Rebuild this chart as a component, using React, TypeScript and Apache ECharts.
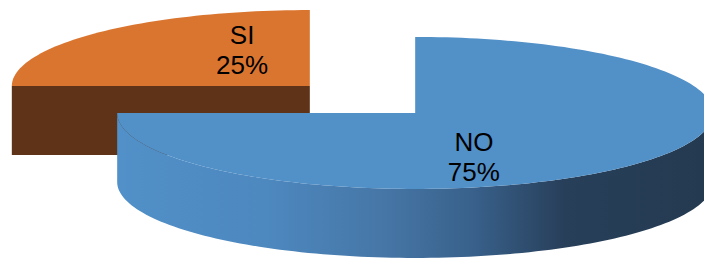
import React, { useEffect, useRef } from 'react';
import * as echarts from 'echarts';

// Data (Excel-style pie: clockwise from 12 o'clock)
const categories = ['NO', 'SI'];
const values = [75, 25];

// Styles
const topColors = ['#5290C8', '#DA7530'];
const faceColors = ['#3E6E9C', '#5E3317'];
const wallColors: [number, string][][] = [
  [
    [0, '#5190C8'],
    [0.25, '#4D88BF'],
    [0.45, '#4676A6'],
    [0.6, '#38608A'],
    [0.75, '#283F5A'],
    [1, '#233A50'],
  ],
  [
    [0, '#8A4A1E'],
    [1, '#5E3317'],
  ],
];

const total = values.reduce((a, b) => a + b, 0);
const deg = Math.PI / 180;

export default function App() {
  const ref = useRef<HTMLDivElement>(null);

  useEffect(() => {
    if (!ref.current) return;
    const chart = echarts.init(ref.current, undefined, { renderer: 'svg' });

    const CX = 362.5;
    const CY = 99.5;
    const RX = 298;
    const RY = 76;
    const DEPTH = 69;
    const EXPLODE = 0.25;

    const renderItem = (params: any, api: any) => {
      const i = params.dataIndex;
      let cum = 0;
      for (let k = 0; k < i; k++) cum += values[k];
      const a0 = 90 - (cum / total) * 360;
      const a1 = 90 - ((cum + values[i]) / total) * 360;
      const mid = (a0 + a1) / 2;
      const cx = CX + Math.cos(mid * deg) * RX * EXPLODE;
      const cy = CY - Math.sin(mid * deg) * RY * EXPLODE;
      const pt = (a: number, dy = 0): number[] => [
        cx + RX * Math.cos(a * deg),
        cy - RY * Math.sin(a * deg) + dy,
      ];
      const arc = (from: number, to: number, dy = 0): number[][] => {
        const n = Math.max(2, Math.ceil(Math.abs(from - to) / 1.5));
        const pts: number[][] = [];
        for (let s = 0; s <= n; s++) pts.push(pt(from + ((to - from) * s) / n, dy));
        return pts;
      };
      const base = Math.round(cy) * 10;
      const children: any[] = [];

      // Curved outer wall (front half only)
      for (let k = -2; k <= 1; k++) {
        const fLo = -180 + 360 * k;
        const fHi = 0 + 360 * k;
        const lo = Math.max(a1, fLo);
        const hi = Math.min(a0, fHi);
        if (hi - lo > 0.01) {
          const topArc = arc(hi, lo);
          const botArc = arc(lo, hi, DEPTH);
          children.push({
            type: 'polygon',
            z2: base + 1,
            shape: { points: topArc.concat(botArc) },
            style: {
              fill: new echarts.graphic.LinearGradient(
                0, 0, 1, 0,
                wallColors[i].map(([o, c]) => ({ offset: o, color: c }))
              ),
            },
          });
        }
      }

      // Radial cut faces
      const faceAt = (a: number) => {
        const p = pt(a);
        const p2 = pt(a, DEPTH);
        return [[cx, cy], p, p2, [cx, cy + DEPTH]];
      };
      if (Math.cos(a0 * deg) < -0.01) {
        children.push({
          type: 'polygon',
          z2: base + 2,
          shape: { points: faceAt(a0) },
          style: { fill: faceColors[i] },
        });
      }
      if (Math.cos(a1 * deg) > 0.01) {
        children.push({
          type: 'polygon',
          z2: base + 2,
          shape: { points: faceAt(a1) },
          style: { fill: faceColors[i] },
        });
      }

      // Top face
      children.push({
        type: 'polygon',
        z2: base + 5,
        shape: { points: [[cx, cy]].concat(arc(a0, a1)) },
        style: { fill: topColors[i] },
      });

      // Label
      const pct = Math.round((values[i] / total) * 100);
      children.push({
        type: 'text',
        z2: 100000,
        style: {
          text: categories[i] + '\n' + pct + '%',
          x: cx + Math.cos(mid * deg) * RX * 0.3 - 4.5,
          y: cy - Math.sin(mid * deg) * RY * 0.75 + 4,
          align: 'center',
          verticalAlign: 'middle',
          fontSize: 26,
          lineHeight: 30,
          fontFamily: '"Liberation Sans", Arial, sans-serif',
          fill: '#000000',
        },
      });

      return { type: 'group', children };
    };

    chart.setOption({
      animation: false,
      series: [
        {
          type: 'custom',
          coordinateSystem: 'none',
          renderItem,
          data: values.map((v, i) => ({ name: categories[i], value: v })),
        },
      ],
    });

    return () => chart.dispose();
  }, []);

  return (
    <div
      ref={ref}
      style={{ position: 'fixed', left: 0, top: 0, width: 704, height: 260, background: '#ffffff' }}
    />
  );
}
